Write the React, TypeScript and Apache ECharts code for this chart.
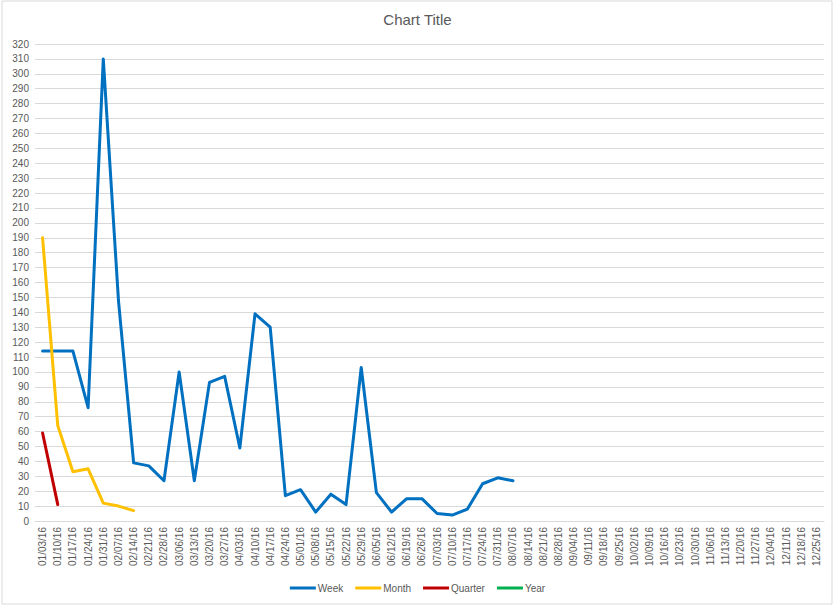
import React, { useEffect, useRef } from "react";
import * as echarts from "echarts";

const categories = [
  "01/03/16","01/10/16","01/17/16","01/24/16","01/31/16","02/07/16","02/14/16","02/21/16","02/28/16",
  "03/06/16","03/13/16","03/20/16","03/27/16","04/03/16","04/10/16","04/17/16","04/24/16",
  "05/01/16","05/08/16","05/15/16","05/22/16","05/29/16","06/05/16","06/12/16","06/19/16","06/26/16",
  "07/03/16","07/10/16","07/17/16","07/24/16","07/31/16","08/07/16","08/14/16","08/21/16","08/28/16",
  "09/04/16","09/11/16","09/18/16","09/25/16","10/02/16","10/09/16","10/16/16","10/23/16","10/30/16",
  "11/06/16","11/13/16","11/20/16","11/27/16","12/04/16","12/11/16","12/18/16","12/25/16",
];

const weekValues = [
  114, 114, 114, 76, 310, 148, 39, 37, 27, 100, 27, 93, 97, 49, 139, 130, 17,
  21, 6, 18, 11, 103, 19, 6, 15, 15, 5, 4, 8, 25, 29, 27,
];
const monthValues = [190, 64, 33, 35, 12, 10, 7];
const quarterValues = [59, 11];
const yearValues: number[] = [];

const TEXT = "#595959";
const GRID = "#d9d9d9";

export default function App() {
  const ref = useRef<HTMLDivElement>(null);
  useEffect(() => {
    if (!ref.current) return;
    const chart = echarts.init(ref.current, null, { renderer: "svg" });
    const font = "'Liberation Sans', Arial, sans-serif";
    const mk = (name: string, data: number[], color: string) => ({
      name,
      type: "line",
      data,
      symbol: "none",
      lineStyle: { width: 3, color, cap: "round", join: "round" },
      itemStyle: { color },
    });
    chart.setOption({
      animation: false,
      backgroundColor: "#ffffff",
      textStyle: { fontFamily: font },
      title: {
        text: "Chart Title",
        left: "center",
        top: 7,
        textStyle: { color: TEXT, fontSize: 15, fontWeight: "normal", fontFamily: font },
      },
      legend: {
        bottom: 9,
        left: "center",
        itemWidth: 26,
        itemHeight: 3,
        itemGap: 12,
        icon: "rect",
        textStyle: { color: TEXT, fontSize: 10, fontFamily: font, padding: [0, 0, 0, -3] },
        data: ["Week", "Month", "Quarter", "Year"],
      },
      grid: { left: 35, right: 11, top: 44, bottom: 86, containLabel: false },
      xAxis: {
        type: "category",
        data: categories,
        boundaryGap: true,
        axisLine: { lineStyle: { color: GRID } },
        axisTick: { show: false },
        axisLabel: { rotate: 90, interval: 0, color: TEXT, fontSize: 10, margin: 6, fontFamily: font },
      },
      yAxis: {
        type: "value",
        min: 0,
        max: 320,
        interval: 10,
        axisLine: { show: false },
        axisTick: { show: false },
        axisLabel: { color: TEXT, fontSize: 10, margin: 6, fontFamily: font },
        splitLine: { lineStyle: { color: GRID, width: 1 } },
      },
      graphic: [
        {
          type: "rect",
          shape: { x: 2, y: 1, width: 830, height: 603 },
          style: { fill: "none", stroke: GRID, lineWidth: 1 },
          silent: true,
        },
      ],
      series: [
        mk("Week", weekValues, "#0070C0"),
        mk("Month", monthValues, "#FFC000"),
        mk("Quarter", quarterValues, "#C00000"),
        mk("Year", yearValues, "#00B050"),
      ],
    });
    return () => chart.dispose();
  }, []);
  return (
    <div
      ref={ref}
      style={{ position: "fixed", left: 0, top: 0, width: 835, height: 607 }}
    />
  );
}
